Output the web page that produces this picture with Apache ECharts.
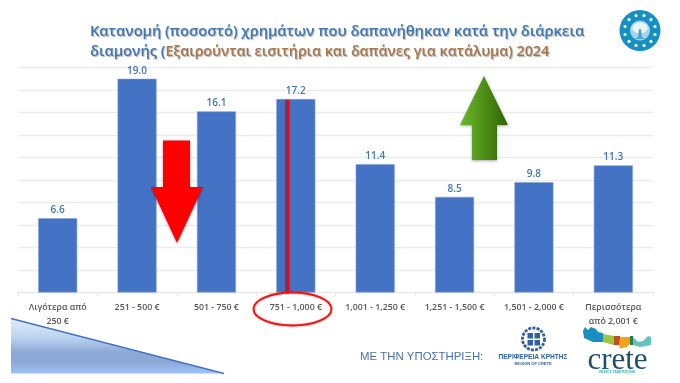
<!DOCTYPE html>
<html><head><meta charset="utf-8">
<style>html,body{margin:0;padding:0;background:#fff}#c{width:680px;height:383px}</style>
<script src="https://cdn.jsdelivr.net/npm/echarts@6/dist/echarts.min.js"></script>
</head><body><div id="c"></div>
<script>
var categories = ['Λιγότερα από\n250 €','251 - 500 €','501 - 750 €','751 - 1,000 €','1,001 - 1,250 €','1,251 - 1,500 €','1,501 - 2,000 €','Περισσότερα\nαπό 2,001 €'];
var values = [6.6,19.0,16.1,17.2,11.4,8.5,9.8,11.3];
var titleLine1 = 'Κατανομή (ποσοστό) χρημάτων που δαπανήθηκαν κατά την διάρκεια';
var titleLine2a = 'διαμονής (';
var titleLine2b = 'Εξαιρούνται εισιτήρια και δαπάνες για κατάλυμα) 2024';
var FONT = '"Open Sans","Noto Sans",sans-serif';
var chart = echarts.init(document.getElementById('c'), null, {renderer:'canvas'});

function poly(points, style, z){ return {type:'polygon', shape:{points:points}, style:style, z:z||10, silent:true}; }
function txt(x,y,t,size,color,weight,align,extra){
  var s={x:x,y:y,text:t,fill:color,fontSize:size,fontWeight:weight||'normal',fontFamily:FONT,textAlign:align||'left',textVerticalAlign:'middle'};
  if(extra){for(var k in extra)s[k]=extra[k];}
  return {type:'text',style:s,z:12,silent:true};
}
var g = [];
// bottom-left triangle
g.push(poly([[11,318],[224,373.5],[11,373.5]],{fill:new echarts.graphic.LinearGradient(0,0,0,1,[{offset:0,color:'#e0eefc'},{offset:0.35,color:'#bcd4f0'},{offset:0.62,color:'#8ea8d6'},{offset:0.8,color:'#8ea8d6'},{offset:1,color:'#9cc4f4'}]),stroke:null}));
g.push({type:'line',shape:{x1:11,y1:318.5,x2:224,y2:373.5},style:{stroke:'#4472c4',lineWidth:1.3},z:11,silent:true});
// red arrow
g.push(poly([[163,140.5],[190,140.5],[190,187],[203,187],[177,243],[151,187],[163,187]],{fill:'#ff0000',shadowBlur:3,shadowColor:'rgba(0,0,60,0.35)',shadowOffsetX:0,shadowOffsetY:1}));
// green arrow
g.push(poly([[472,160],[472,125],[460,125],[484,76],[508,125],[497,125],[497,160]],{fill:new echarts.graphic.LinearGradient(0,0,1,0,[{offset:0,color:'#6cb92f'},{offset:1,color:'#2f6400'}]),shadowBlur:3,shadowColor:'rgba(0,0,0,0.35)',shadowOffsetY:1}));
// red vertical line and ellipse
g.push({type:'line',shape:{x1:288,y1:100,x2:288,y2:293},style:{stroke:'#ff0000',lineWidth:2.8,shadowBlur:2,shadowColor:'rgba(60,0,40,0.6)',shadowOffsetX:-1},z:11,silent:true});
g.push({type:'ellipse',shape:{cx:292.5,cy:309,rx:39,ry:16.5},style:{fill:null,stroke:'#ee1111',lineWidth:1.8,shadowBlur:2,shadowColor:'rgba(255,0,0,0.5)'},z:11,silent:true});
// top-right emblem
g.push({type:'circle',shape:{cx:640,cy:30.5,r:20.5},style:{fill:'#1590c4'},z:10,silent:true});
g.push({type:'circle',shape:{cx:640,cy:30.5,r:10},style:{fill:'#a9d5e8'},z:11,silent:true});
g.push({type:'ellipse',shape:{cx:640,cy:28,rx:7.5,ry:5.5},style:{fill:'#eaf6fa'},z:12,silent:true});
g.push(poly([[639,29],[641,29],[642,37],[645,39],[635,39],[638,37]],{fill:'#4fa6c9'},13));
[0,1,2,3,4,5,6,7,8,9,10,11].forEach(function(i){
  var a=(i+0.5)*Math.PI/6;
  g.push({type:'circle',shape:{cx:640+15.5*Math.cos(a),cy:30.5+15.5*Math.sin(a),r:1.6},style:{fill:'#ffffff'},z:12,silent:true});
});
// support line
g.push(txt(360,357,'ΜΕ ΤΗΝ ΥΠΟΣΤΗΡΙΞΗ:',11.4,'#4672a8','normal','left',{fontFamily:'"Liberation Sans",sans-serif'}));
// region emblem
g.push({type:'circle',shape:{cx:533.5,cy:339,r:11},style:{fill:null,stroke:'#2f5f9e',lineWidth:2.8,lineDash:[3,1.2]},z:10,silent:true});
[[527.5,333],[534.5,333],[527.5,340],[534.5,340]].forEach(function(p){
  g.push({type:'rect',shape:{x:p[0],y:p[1],width:5.5,height:5.5},style:{fill:'#2f5f9e'},z:11,silent:true});
});
g.push(txt(533,357,'ΠΕΡΙΦΕΡΕΙΑ ΚΡΗΤΗΣ',6.6,'#2f5f9e','bold','center',{fontFamily:'"Liberation Sans Narrow","Liberation Sans",sans-serif'}));
g.push(txt(533,364,'REGION OF CRETE',4,'#2f5f9e','bold','center',{fontFamily:'"Liberation Sans",sans-serif'}));
// crete logo
g.push(poly([[583,331],[585,327],[588,330],[591,327],[596,329],[598,332],[603,333],[603,342],[593,342],[584,338]],{fill:'#1b8ec0'}));
g.push(poly([[603,334],[614,336],[614,345],[603,342]],{fill:'#9cc63c'}));
g.push(poly([[614,336],[620,336],[620,345],[614,345]],{fill:'#bf4f22'}));
g.push(poly([[620,337],[630,337],[630,344],[627,347],[620,348.5],[619,345]],{fill:'#f3a01d'}));
g.push(poly([[630,336],[633,336],[633,345],[630,345]],{fill:'#2a7f4f'}));
g.push(poly([[633,337],[638,342],[643,341],[648,336],[651,337],[651,345],[640,347],[633,345]],{fill:'#63c2bd'}));
g.push(txt(617.5,361,'crete',31,'#1f4f6b','normal','center',{fontFamily:'"Liberation Serif",serif'}));
g.push(txt(617,372,'GREECE YEAR ROUND',3.5,'#3ab0c0','bold','center'));

chart.setOption({
  animation:false,
  backgroundColor:'#ffffff',
  title:{
    left:90, top:22, padding:0,
    text:'{a|'+titleLine1+'}\n{a|'+titleLine2a+'}{b|'+titleLine2b+'}',
    textStyle:{lineHeight:20,rich:{
      a:{fontFamily:FONT,fontSize:14.7,fontWeight:600,color:'#3f78b0',lineHeight:20,textShadowColor:'rgba(0,0,0,0.3)',textShadowBlur:1,textShadowOffsetY:1,textShadowOffsetX:1},
      b:{fontFamily:FONT,fontSize:14.3,fontWeight:600,color:'#a5774a',lineHeight:20,textShadowColor:'rgba(0,0,0,0.3)',textShadowBlur:1,textShadowOffsetY:1,textShadowOffsetX:1}
    }}
  },
  grid:{left:18,right:27,top:67.5,bottom:90.5},
  xAxis:{type:'category',data:categories,
    axisLine:{lineStyle:{color:'#e6e6e6',width:1}},
    axisTick:{show:true,length:3,alignWithLabel:false,lineStyle:{color:'#e6e6e6'}},
    axisLabel:{interval:0,margin:8,fontFamily:FONT,fontSize:8.8,fontWeight:600,color:'#555555',lineHeight:14}},
  yAxis:{type:'value',min:0,max:20,interval:2,
    axisLine:{show:false},axisTick:{show:false},axisLabel:{show:false},
    splitLine:{lineStyle:{color:'#ececec',width:1.3}}},
  series:[{type:'bar',data:values,barWidth:39,
    itemStyle:{color:'#4472c4',borderColor:'#7f9fd8',borderWidth:0.6},
    label:{show:true,position:'top',distance:3,formatter:function(p){return p.value.toFixed(1);},fontFamily:FONT,fontSize:10,fontWeight:600,color:'#3f78b0'}}],
  graphic:g
});
</script></body></html>
